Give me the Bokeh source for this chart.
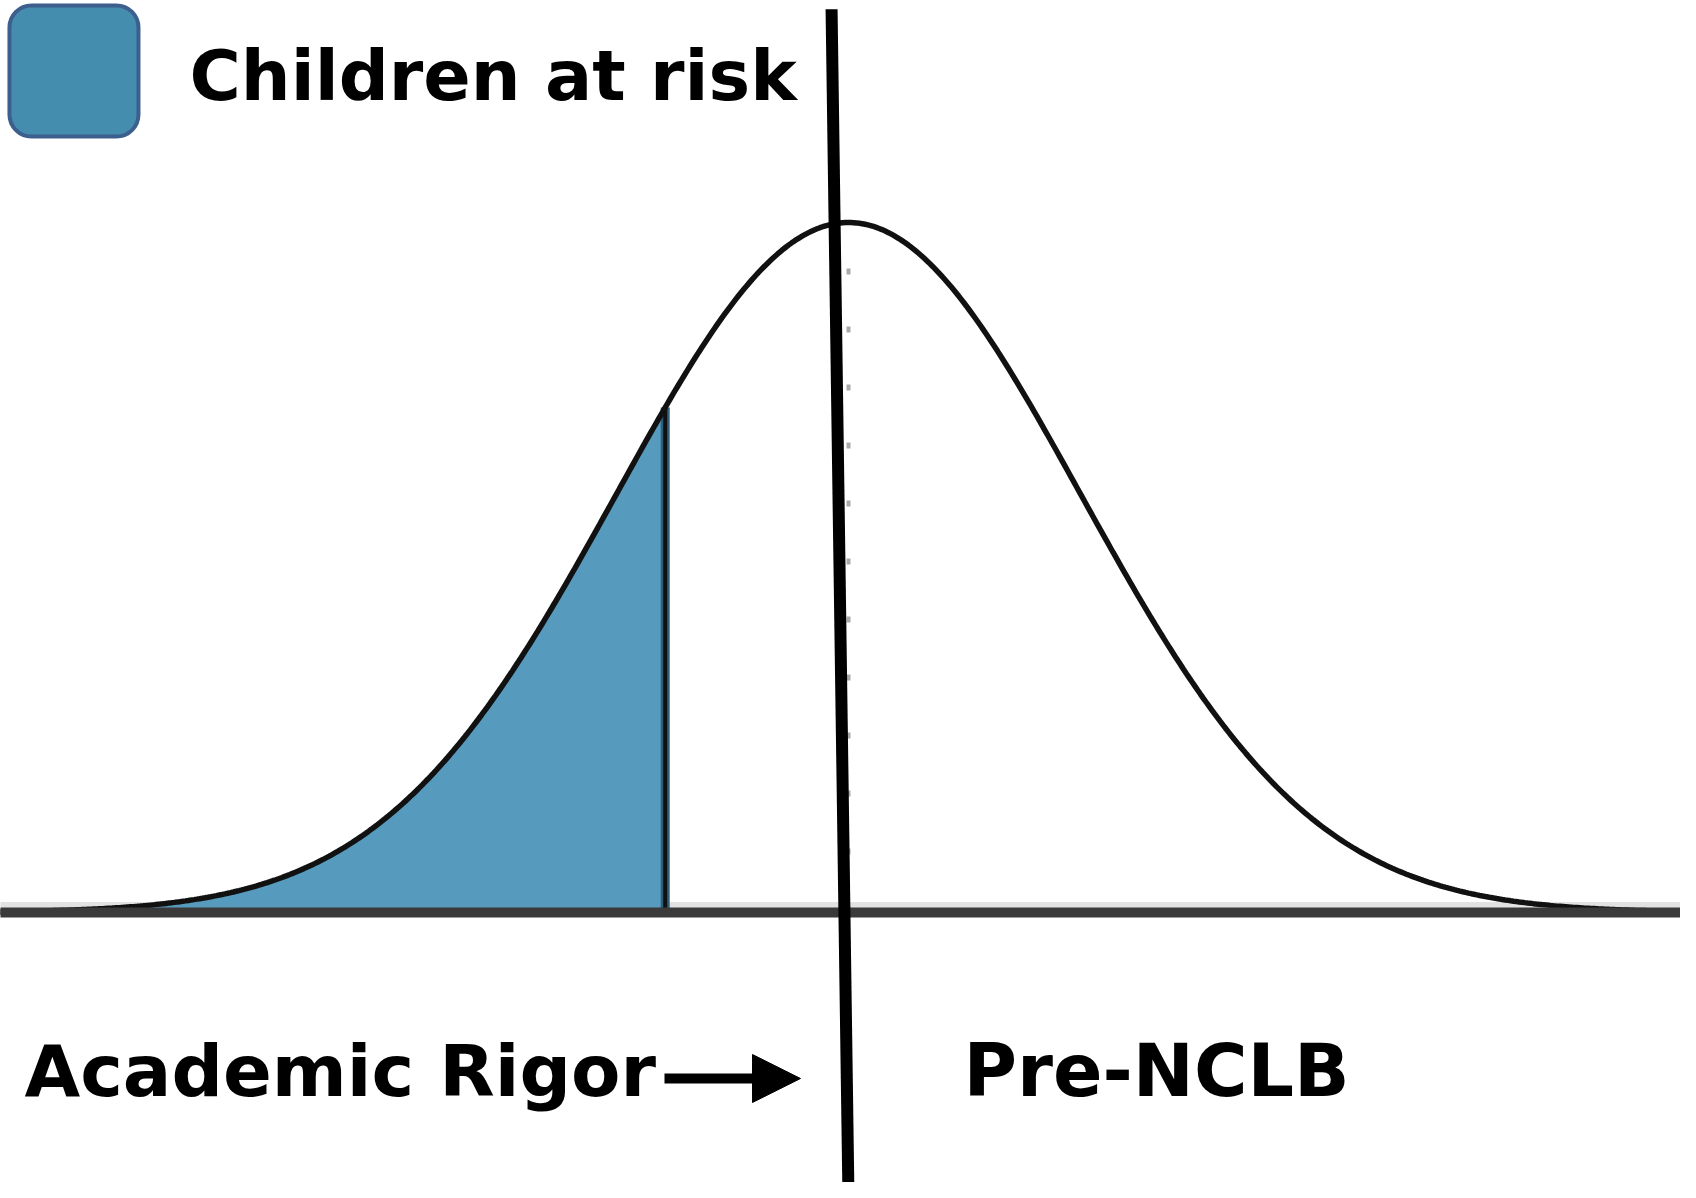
import numpy as np
from bokeh.plotting import figure
from bokeh.models import Range1d, Label, Arrow, NormalHead
from bokeh.embed import file_html
from bokeh.resources import INLINE

# ---- data (distribution in standard-score units, height relative to peak) ----
mean_z = 0.0
sd = 1.0
cutoff_z = -0.79          # children-at-risk threshold
z_min, z_max = -3.66, 3.62

legend_labels = ["Children at risk"]
axis_labels = ["Academic Rigor", "Pre-NCLB"]

# divider line (tilted) endpoints in z / height units
divider_x = [-0.073, 0.0]
divider_y = [1.309, -0.415]

FONT = "DejaVu Sans"
BLUE = "#569bbd"

z = np.linspace(z_min, z_max, 600)
h = np.exp(-0.5 * ((z - mean_z) / sd) ** 2)
mask = z <= cutoff_z
h_cut = float(np.exp(-0.5 * ((cutoff_z - mean_z) / sd) ** 2))

p = figure(width=1680, height=1182, x_range=Range1d(-3.655, 3.586),
           y_range=Range1d(-0.3913, 1.3217), x_axis_type=None, y_axis_type=None,
           toolbar_location=None, output_backend="svg", min_border=0)
p.grid.visible = False
p.outline_line_color = None
p.background_fill_color = "white"

# faint band above baseline (under the shading)
p.line([z_min, z_max], [0.011, 0.011], line_color="#e2e2e2", line_width=6)

# shaded region
p.varea(x=z[mask], y1=-0.004, y2=h[mask], fill_color=BLUE)
p.segment(x0=[cutoff_z], y0=[0], x1=[cutoff_z], y1=[h_cut], line_color="#2f5f78", line_width=9)
p.segment(x0=[cutoff_z], y0=[0], x1=[cutoff_z], y1=[h_cut], line_color="#111111", line_width=4)

# faint mean line
p.segment(x0=[mean_z], y0=[0], x1=[mean_z], y1=[1.0], line_color="#aaaaaa",
          line_width=4, line_dash="6 52")

# bell curve
p.line(z, h, line_color="#111111", line_width=5.5)

# baseline
p.line([z_min, z_max], [0, 0], line_color="#3a3a3a", line_width=10)

# divider
p.line(divider_x, divider_y, line_color="black", line_width=12)

# legend
p.quad(left=[-3.6164], right=[-3.0603], top=[1.3145], bottom=[1.1246],
       fill_color="#448daf", line_color="#3d5f8e", line_width=4, border_radius=22)
p.add_layout(Label(x=-2.8405, y=1.213, text=legend_labels[0], text_font=FONT,
                   text_font_style="bold", text_font_size="70px", text_color="black",
                   text_baseline="alphabetic", text_align="left"))

# bottom labels
p.add_layout(Label(x=-3.5517, y=-0.229, text=axis_labels[0], text_font=FONT,
                   text_font_style="bold", text_font_size="72px", text_color="black",
                   text_baseline="alphabetic", text_align="left"))
p.add_layout(Label(x=0.4957, y=-0.229, text=axis_labels[1], text_font=FONT,
                   text_font_style="bold", text_font_size="73px", text_color="black",
                   text_baseline="alphabetic", text_align="left"))

p.add_layout(Arrow(end=NormalHead(size=48, fill_color="black", line_color="black", line_width=1),
                   x_start=-0.7931, y_start=-0.2406, x_end=-0.2069, y_end=-0.2406,
                   line_color="black", line_width=10))

open("out.html", "w").write(file_html(p, INLINE))
